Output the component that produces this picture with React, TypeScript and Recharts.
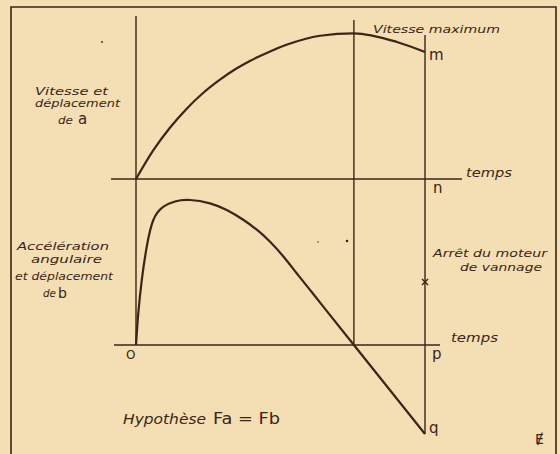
import React from 'react';
import { LineChart, Line, XAxis, YAxis, ReferenceLine, ReferenceDot, Customized } from 'recharts';

// ---- data (time units; velocity / acceleration units) ----
const velocityTimes = [0, 0.59, 1.18, 1.73, 2.32, 2.87, 3.46, 3.94, 4.64, 5.23, 6.37, 7.54, 9.03, 10];
const velocityValues = [0, 1.95, 3.55, 4.8, 5.93, 6.8, 7.6, 8.14, 8.8, 9.27, 9.88, 10.05, 9.45, 8.76];

const accelTimes = [0, 0.08, 0.2, 0.37, 0.6, 0.94, 1.35, 1.87, 2.56, 3.14, 3.71, 4.18, 4.64, 5.1, 5.56, 6.02, 6.48, 7.54, 10];
const accelValues = [0, 2.21, 4.48, 6.76, 8.62, 9.52, 9.9, 10.0, 9.77, 9.31, 8.64, 7.95, 7.12, 6.1, 4.95, 3.8, 2.65, 0, -6.14];

const tMaxVelocity = 7.54; // instant of maximum velocity (zero acceleration)
const tStop = 10; // arrêt du moteur de vannage
const aCross = 4.34; // marker × on acceleration scale

const velocityData = velocityTimes.map((t, i) => ({ t, v: velocityValues[i] }));
const accelData = accelTimes.map((t, i) => ({ t, a: accelValues[i] }));

// ---- layout ----
const W = 560;
const H = 454;
const PX_T = 28.9;
const PX_V = 14.5;
const ORIGIN_X = 136;
const V_BASE = 179;
const A_BASE = 345;
const X_DOMAIN = [-ORIGIN_X / PX_T, (W - ORIGIN_X) / PX_T];
const V_DOMAIN = [-(H - V_BASE) / PX_V, V_BASE / PX_V];
const A_DOMAIN = [-(H - A_BASE) / PX_V, A_BASE / PX_V];

const INK = '#3a2517';
const BG = '#f4deb4';
const ITALIC = { fontFamily: 'DejaVu Sans', fontStyle: 'italic' as const, fill: INK };
const UPRIGHT = { fontFamily: 'DejaVu Sans', fill: INK };

function T({ x, y, w, size = 11, children, upright }: any) {
  const style = upright ? UPRIGHT : ITALIC;
  return (
    <text x={x} y={y} fontSize={size} {...style} {...(w ? { textLength: w, lengthAdjust: 'spacingAndGlyphs' } : {})}>
      {children}
    </text>
  );
}

function Annotations() {
  return (
    <g>
      <path d={`M11,470 L11,7 L556,7 L556,470`} fill="none" stroke={INK} strokeWidth={1.6} />
      <T x={35} y={95} w={73}>Vitesse et</T>
      <T x={35} y={107} w={85}>déplacement</T>
      <T x={58} y={124} w={15}>de</T>
      <T x={78} y={124} size={15} upright>a</T>
      <T x={373} y={33} w={127}>Vitesse maximum</T>
      <T x={429} y={60} size={15} upright>m</T>
      <T x={433} y={193} size={15} upright>n</T>
      <T x={466} y={177} w={46} size={13}>temps</T>
      <T x={17} y={250} w={92}>Accélération</T>
      <T x={31} y={263} w={71}>angulaire</T>
      <T x={15} y={280} w={98}>et déplacement</T>
      <T x={43} y={297} w={13}>de</T>
      <T x={58} y={298} size={14} upright>b</T>
      <T x={126} y={359} size={12} upright>O</T>
      <T x={123} y={424} w={83} size={14}>Hypothèse</T>
      <T x={213} y={424} w={67} size={15} upright>Fa = Fb</T>
      <T x={433} y={257} w={114}>Arrêt du moteur</T>
      <T x={460} y={271} w={82}>de vannage</T>
      <T x={451} y={342} w={47} size={13}>temps</T>
      <T x={432} y={359} size={15} upright>p</T>
      <T x={429} y={433} size={15} upright>q</T>
      <T x={535} y={444} size={14} upright>Ɇ</T>
      <circle cx={347} cy={241} r={1.3} fill={INK} />
      <circle cx={102} cy={42} r={0.9} fill={INK} />
      <circle cx={318} cy={242} r={0.7} fill={INK} />
    </g>
  );
}

const Cross = (p: any) => (
  <g stroke={INK} strokeWidth={1.4}>
    <line x1={p.cx - 3} y1={p.cy - 3} x2={p.cx + 3} y2={p.cy + 3} />
    <line x1={p.cx - 3} y1={p.cy + 3} x2={p.cx + 3} y2={p.cy - 3} />
  </g>
);

export default function App() {
  return (
    <div style={{ position: 'fixed', left: 0, top: 0, width: W, height: H, background: BG }}>
      <LineChart width={W} height={H} margin={{ top: 0, right: 0, bottom: 0, left: 0 }}>
        <XAxis type="number" dataKey="t" domain={X_DOMAIN} hide allowDataOverflow />
        <YAxis yAxisId="v" type="number" domain={V_DOMAIN} hide allowDataOverflow />
        <YAxis yAxisId="a" type="number" domain={A_DOMAIN} hide allowDataOverflow />
        <Customized component={<Annotations />} />
        {/* axes */}
        <ReferenceLine yAxisId="v" segment={[{ x: -0.865, y: 0 }, { x: 11.28, y: 0 }]} stroke={INK} strokeWidth={1.4} />
        <ReferenceLine yAxisId="a" segment={[{ x: -0.76, y: 0 }, { x: 10.52, y: 0 }]} stroke={INK} strokeWidth={1.4} />
        <ReferenceLine yAxisId="v" segment={[{ x: 0, y: 11.24 }, { x: 0, y: -11.38 }]} stroke={INK} strokeWidth={1.4} />
        <ReferenceLine yAxisId="v" segment={[{ x: tMaxVelocity, y: 10.97 }, { x: tMaxVelocity, y: -11.45 }]} stroke={INK} strokeWidth={1.4} />
        <ReferenceLine yAxisId="v" segment={[{ x: tStop, y: 9.93 }, { x: tStop, y: -17.59 }]} stroke={INK} strokeWidth={1.4} />
        <ReferenceDot yAxisId="a" x={tStop} y={aCross} r={3} shape={Cross} />
        <Line yAxisId="v" data={velocityData} dataKey="v" type="monotone" stroke={INK} strokeWidth={2.2} dot={false} activeDot={false} isAnimationActive={false} />
        <Line yAxisId="a" data={accelData} dataKey="a" type="natural" stroke={INK} strokeWidth={2.2} dot={false} activeDot={false} isAnimationActive={false} />
      </LineChart>
    </div>
  );
}
